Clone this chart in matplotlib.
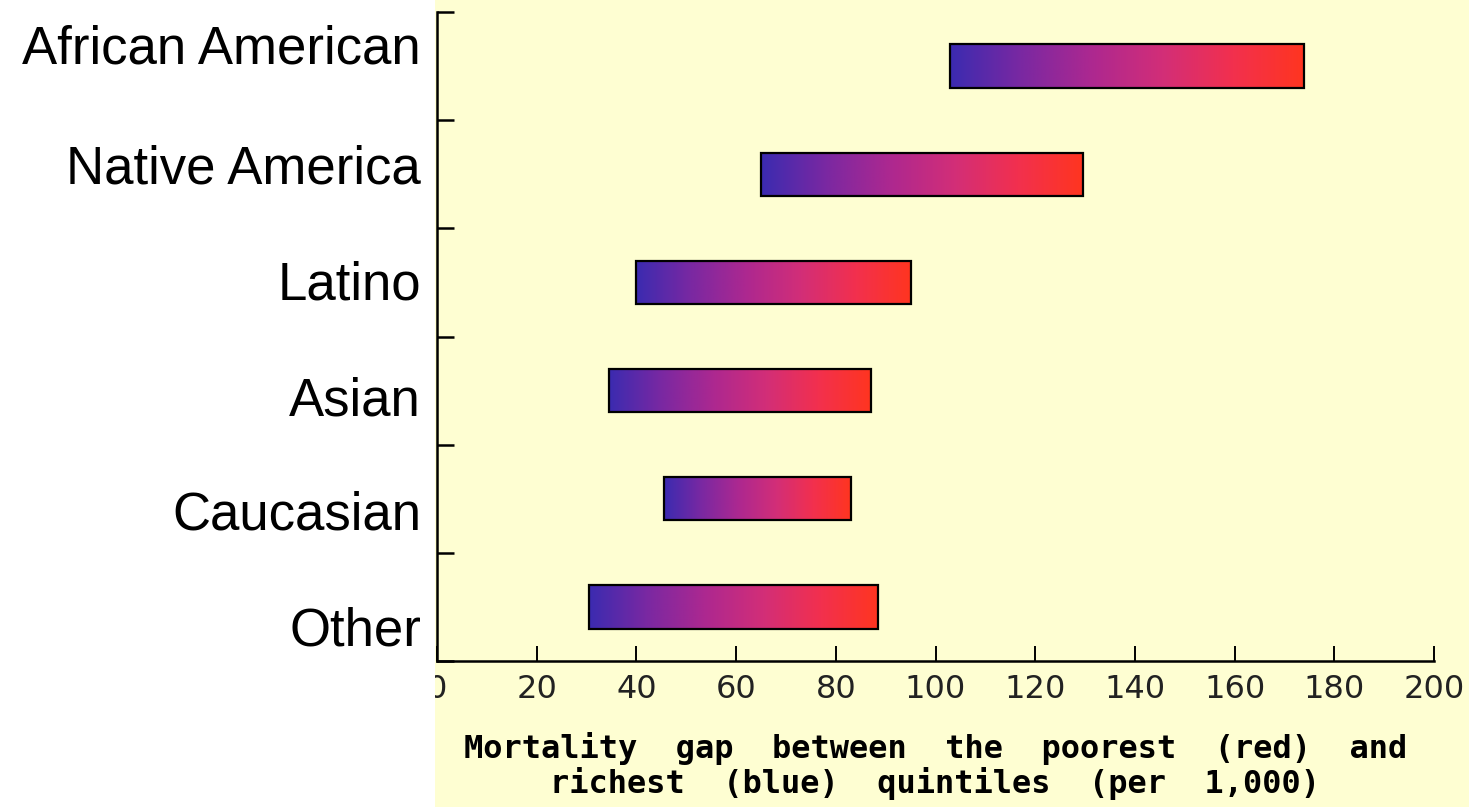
import numpy as np
import matplotlib.pyplot as plt
from matplotlib.colors import LinearSegmentedColormap
from matplotlib.patches import Rectangle

# mortality per 1,000: richest quintile (blue end) and poorest quintile (red end)
groups = ['African American', 'Native America', 'Latino', 'Asian', 'Caucasian', 'Other']
richest = [103, 65, 40, 34.5, 45.5, 30.5]
poorest = [174, 129.5, 95, 87, 83, 88.5]
xticks = list(range(0, 201, 20))

W, H = 1469, 807
fig = plt.figure(figsize=(W / 100, H / 100), dpi=100)
fig.patch.set_facecolor('white')

# pale yellow panel behind the plot
fig.add_artist(Rectangle((435 / W, 0), 1 - 435 / W, 1, transform=fig.transFigure,
                         facecolor='#fefed2', edgecolor='none', zorder=0))

ax = fig.add_axes([437 / W, 1 - 661 / H, (1434 - 437) / W, (661 - 12) / H])
ax.set_facecolor('none')

grad = LinearSegmentedColormap.from_list(
    'blue_red', ['#3b2bb0', '#7a28a2', '#ad2890', '#d22e78', '#f2304e', '#ff3520'])
ramp = np.linspace(0, 1, 256).reshape(1, -1)

n = len(groups)
h = 0.4
for i, (lo, hi) in enumerate(zip(richest, poorest)):
    y = n - 1 - i
    ax.imshow(ramp, cmap=grad, aspect='auto', extent=(lo, hi, y - h / 2, y + h / 2),
              interpolation='bilinear', zorder=2)
    ax.add_patch(Rectangle((lo, y - h / 2), hi - lo, h, facecolor='none',
                           edgecolor='black', linewidth=1.6, zorder=3))

ax.set_xlim(0, 200)
ax.set_ylim(-0.5, n - 0.5)

ax.spines['top'].set_visible(False)
ax.spines['right'].set_visible(False)
ax.spines['left'].set_linewidth(1.8)
ax.spines['bottom'].set_linewidth(1.8)

ax.set_xticks(xticks)
ax.set_xticklabels([str(v) for v in xticks], family='DejaVu Sans', fontsize=23,
                   color='#222222')
ax.tick_params(axis='x', direction='in', length=11, width=1.4, pad=9)

# boundary ticks between groups, pointing inward
ax.set_yticks(np.arange(-0.5, n, 1.0))
ax.set_yticklabels([])
ax.tick_params(axis='y', direction='in', length=12, width=1.8)

# group names sit in the white margin on their own baselines
baselines = [63, 184, 300, 415, 530, 645]
for name, yb in zip(groups, baselines):
    fig.text(421 / W, 1 - yb / H, name, ha='right', va='baseline',
             family='Liberation Sans', fontsize=38)

ax.set_xlabel('Mortality  gap  between  the  poorest  (red)  and\n'
              'richest  (blue)  quintiles  (per  1,000)',
              family='DejaVu Sans Mono', fontweight='bold', fontsize=23,
              linespacing=1.08, labelpad=20)

# white margin clips the left edge of the "0" label
fig.add_artist(Rectangle((0, (H - 710) / H), 435 / W, 45 / H, transform=fig.transFigure,
                         facecolor='white', edgecolor='none', zorder=5))

fig.savefig('out.png', dpi=100)
